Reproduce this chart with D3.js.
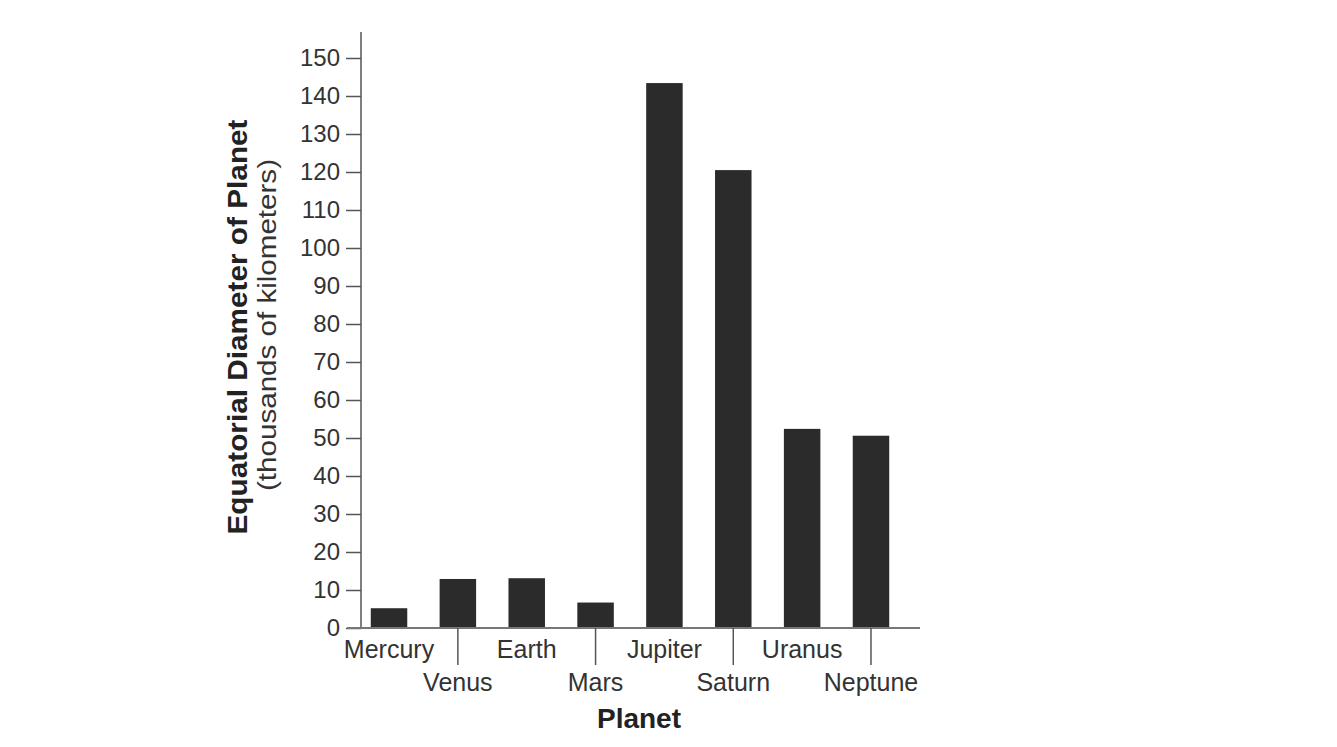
<!DOCTYPE html>
<html>
<head>
<meta charset="utf-8">
<script src="https://cdn.jsdelivr.net/npm/d3@7"></script>
<style>
  html, body { margin: 0; padding: 0; background: #fff; }
  svg { display: block; }
  text { font-family: "Liberation Sans", Arial, sans-serif; }
</style>
</head>
<body>
<svg id="chart" width="1337" height="747"></svg>
<script>
const planets = ["Mercury", "Venus", "Earth", "Mars", "Jupiter", "Saturn", "Uranus", "Neptune"];
const diameters = [5.2, 12.9, 13.1, 6.7, 143.4, 120.5, 52.4, 50.6];
const yTicks = [0, 10, 20, 30, 40, 50, 60, 70, 80, 90, 100, 110, 120, 130, 140, 150];
const lowerRow = ["Venus", "Mars", "Saturn", "Neptune"];
const yTitle = "Equatorial Diameter of Planet";
const ySubtitle = "(thousands of kilometers)";
const xTitle = "Planet";

const svg = d3.select("#chart");
const axisX = 361, baseY = 628;

const y = d3.scaleLinear().domain([0, 150]).range([baseY, 58]);
const x = d3.scaleBand().domain(planets).range([357, 903]).paddingInner(0.47).paddingOuter(0.2);

// bars
svg.append("g").selectAll("rect").data(planets).join("rect")
  .attr("x", d => x(d))
  .attr("width", x.bandwidth())
  .attr("y", (d, i) => y(diameters[i]))
  .attr("height", (d, i) => baseY - y(diameters[i]))
  .attr("fill", "#2b2b2b");

// y axis
const yAxis = d3.axisLeft(y).tickValues(yTicks).tickSize(15).tickPadding(6).tickFormat(d3.format("d"));
const gy = svg.append("g").attr("transform", `translate(${axisX},0)`).call(yAxis);
gy.select(".domain").remove();
gy.selectAll(".tick line").attr("stroke", "#555").attr("stroke-width", 1.5);
gy.selectAll(".tick text").attr("font-size", 24).attr("fill", "#333")
  .attr("font-family", "Liberation Sans, Arial, sans-serif");
svg.append("line").attr("x1", axisX).attr("x2", axisX).attr("y1", 32).attr("y2", baseY)
  .attr("stroke", "#555").attr("stroke-width", 1.5);

// x axis baseline
svg.append("line").attr("x1", 347).attr("x2", 920).attr("y1", baseY).attr("y2", baseY)
  .attr("stroke", "#777").attr("stroke-width", 2);

// separator ticks at lower-row planets
svg.append("g").selectAll("line").data(lowerRow).join("line")
  .attr("x1", d => x(d) + x.bandwidth() / 2)
  .attr("x2", d => x(d) + x.bandwidth() / 2)
  .attr("y1", baseY).attr("y2", 665)
  .attr("stroke", "#555").attr("stroke-width", 1.5);

// x labels
svg.append("g").selectAll("text").data(planets).join("text")
  .attr("x", d => x(d) + x.bandwidth() / 2)
  .attr("y", d => lowerRow.includes(d) ? 691 : 658)
  .attr("text-anchor", "middle")
  .attr("font-size", 25)
  .attr("fill", "#333")
  .text(d => d);

// x title
svg.append("text").attr("x", 639).attr("y", 728).attr("text-anchor", "middle")
  .attr("font-size", 28).attr("font-weight", "bold").attr("fill", "#222").text(xTitle);

// y titles
svg.append("text").attr("transform", "translate(247,327) rotate(-90)")
  .attr("text-anchor", "middle").attr("font-size", 27).attr("font-weight", "bold")
  .attr("textLength", 415).attr("lengthAdjust", "spacingAndGlyphs")
  .attr("fill", "#222").text(yTitle);
svg.append("text").attr("transform", "translate(276,325) rotate(-90)")
  .attr("text-anchor", "middle").attr("font-size", 26)
  .attr("textLength", 332).attr("lengthAdjust", "spacingAndGlyphs")
  .attr("fill", "#333").text(ySubtitle);
</script>
</body>
</html>
